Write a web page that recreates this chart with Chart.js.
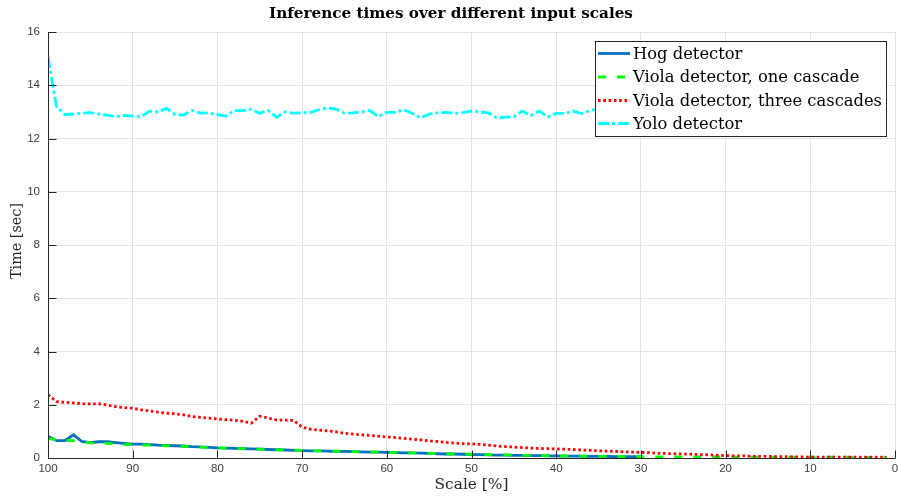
<!DOCTYPE html>
<html>
<head>
<meta charset="utf-8">
<script src="https://cdn.jsdelivr.net/npm/chart.js@4.4.1/dist/chart.umd.min.js"></script>
<style>
  html, body { margin: 0; padding: 0; background: #fff; }
  canvas { display: block; }
</style>
</head>
<body>
<canvas id="c" width="898" height="500"></canvas>
<script>
// input scale in percent, walked from full size down to 1%
const SCALES = [
  100, 99, 98, 97, 96, 95, 94, 93, 92, 91,
  90, 89, 88, 87, 86, 85, 84, 83, 82, 81,
  80, 79, 78, 77, 76, 75, 74, 73, 72, 71,
  70, 69, 68, 67, 66, 65, 64, 63, 62, 61,
  60, 59, 58, 57, 56, 55, 54, 53, 52, 51,
  50, 49, 48, 47, 46, 45, 44, 43, 42, 41,
  40, 39, 38, 37, 36, 35, 34, 33, 32, 31,
  30, 29, 28, 27, 26, 25, 24, 23, 22, 21,
  20, 19, 18, 17, 16, 15, 14, 13, 12, 11,
  10, 9, 8, 7, 6, 5, 4, 3, 2, 1,
];

// seconds per frame; HOG stops at 30% (window no longer fits)
const HOG = [
  0.82, 0.65, 0.65, 0.87, 0.62, 0.58, 0.61, 0.61, 0.58, 0.55,
  0.52, 0.52, 0.50, 0.48, 0.47, 0.46, 0.45, 0.43, 0.42, 0.40,
  0.38, 0.37, 0.36, 0.35, 0.34, 0.33, 0.32, 0.31, 0.30, 0.29,
  0.28, 0.27, 0.27, 0.26, 0.25, 0.25, 0.24, 0.23, 0.22, 0.22,
  0.21, 0.20, 0.19, 0.19, 0.18, 0.17, 0.16, 0.15, 0.15, 0.14,
  0.13, 0.13, 0.12, 0.11, 0.11, 0.10, 0.10, 0.09, 0.09, 0.08,
  0.08, 0.07, 0.07, 0.07, 0.06, 0.06, 0.06, 0.05, 0.05, 0.05,
  0.05,
];
const VIOLA_ONE = [
  0.74, 0.68, 0.66, 0.65, 0.62, 0.57, 0.55, 0.55, 0.53, 0.50,
  0.50, 0.49, 0.48, 0.47, 0.46, 0.45, 0.44, 0.43, 0.41, 0.40,
  0.38, 0.37, 0.36, 0.35, 0.34, 0.33, 0.32, 0.31, 0.30, 0.30,
  0.29, 0.28, 0.27, 0.26, 0.26, 0.25, 0.24, 0.23, 0.23, 0.22,
  0.21, 0.20, 0.20, 0.19, 0.18, 0.17, 0.17, 0.16, 0.15, 0.15,
  0.14, 0.13, 0.13, 0.12, 0.12, 0.11, 0.10, 0.10, 0.09, 0.09,
  0.08, 0.08, 0.07, 0.07, 0.07, 0.06, 0.06, 0.06, 0.05, 0.05,
  0.05, 0.05, 0.04, 0.04, 0.04, 0.04, 0.04, 0.04, 0.04, 0.04,
  0.04, 0.03, 0.03, 0.03, 0.03, 0.03, 0.03, 0.03, 0.03, 0.03,
  0.03, 0.03, 0.03, 0.03, 0.03, 0.02, 0.02, 0.02, 0.02, 0.02,
];
const VIOLA_THREE = [
  2.38, 2.12, 2.09, 2.07, 2.04, 2.03, 2.04, 1.99, 1.93, 1.89,
  1.87, 1.81, 1.77, 1.72, 1.68, 1.66, 1.62, 1.56, 1.53, 1.50,
  1.47, 1.44, 1.42, 1.38, 1.31, 1.57, 1.50, 1.43, 1.42, 1.41,
  1.16, 1.08, 1.05, 1.02, 0.98, 0.93, 0.90, 0.87, 0.85, 0.82,
  0.79, 0.77, 0.74, 0.71, 0.68, 0.64, 0.62, 0.59, 0.56, 0.54,
  0.53, 0.51, 0.48, 0.45, 0.43, 0.41, 0.39, 0.37, 0.36, 0.35,
  0.34, 0.33, 0.32, 0.30, 0.29, 0.27, 0.26, 0.25, 0.23, 0.22,
  0.21, 0.20, 0.18, 0.17, 0.16, 0.15, 0.14, 0.13, 0.12, 0.10,
  0.09, 0.08, 0.08, 0.07, 0.06, 0.06, 0.05, 0.05, 0.04, 0.04,
  0.03, 0.03, 0.03, 0.03, 0.03, 0.03, 0.03, 0.03, 0.03, 0.03,
];
const YOLO = [
  15.05, 13.20, 12.90, 12.92, 12.95, 12.97, 12.92, 12.88, 12.82, 12.87,
  12.85, 12.82, 13.03, 13.00, 13.13, 12.90, 12.88, 13.05, 12.95, 12.96,
  12.90, 12.84, 13.05, 13.05, 13.10, 12.95, 13.05, 12.80, 13.00, 12.95,
  12.97, 12.98, 13.08, 13.15, 13.10, 12.95, 12.96, 13.00, 13.05, 12.82,
  12.98, 12.98, 13.08, 12.95, 12.77, 12.92, 12.96, 12.98, 12.94, 12.97,
  13.03, 13.00, 12.96, 12.77, 12.80, 12.81, 13.03, 12.86, 13.03, 12.81,
  12.94, 12.94, 13.03, 12.94, 13.05, 13.12, 13.08, 12.98, 13.02, 12.95,
  13.04, 12.97, 13.01, 13.06, 12.93, 12.99, 13.05, 12.96, 13.02, 12.98,
  13.03, 12.95, 13.00, 13.07, 12.97, 12.94, 13.02, 13.05, 12.98, 13.01,
  12.96, 13.04, 12.99, 13.02, 12.95, 13.03, 13.00, 12.97, 13.05, 13.01,
];

const X_TICKS = [100, 90, 80, 70, 60, 50, 40, 30, 20, 10, 0];
const Y_TICKS = [0, 2, 4, 6, 8, 10, 12, 14, 16];

const TITLE = 'Inference times over different input scales';
const X_LABEL = 'Scale [%]';
const Y_LABEL = 'Time [sec]';

const AXIS_COLOR = '#262626';
const GRID_COLOR = '#e3e3e3';
const SERIF = '"DejaVu Serif", "Liberation Serif", serif';

const pts = (vals) => SCALES.slice(0, vals.length).map((s, i) => ({ x: s, y: vals[i] }));

const SERIES = [
  { label: 'Hog detector', data: HOG, color: '#0072bd', dash: [] },
  { label: 'Viola detector, one cascade', data: VIOLA_ONE, color: '#00ff00', dash: [8, 11] },
  { label: 'Viola detector, three cascades', data: VIOLA_THREE, color: '#ff0000', dash: [2.6, 2.7] },
  { label: 'Yolo detector', data: YOLO, color: '#00ffff', dash: [11, 3, 3, 3] },
];

// pick a font size so the string spans a given width
function fitFont(ctx, text, weight, family, width) {
  ctx.font = `${weight} 20px ${family}`;
  const size = 20 * width / ctx.measureText(text).width;
  return `${weight} ${size.toFixed(2)}px ${family}`;
}

// MATLAB-like axes: left/bottom lines with inward ticks
const axesPlugin = {
  id: 'axesPlugin',
  afterDatasetsDraw(chart) {
    const { ctx, chartArea: a, scales } = chart;
    const T = 8;
    ctx.save();
    ctx.strokeStyle = AXIS_COLOR;
    ctx.lineWidth = 1;
    ctx.beginPath();
    const L = Math.round(a.left) + 0.5, B = Math.round(a.bottom) + 0.5;
    ctx.moveTo(L, a.top); ctx.lineTo(L, B); ctx.lineTo(a.right, B);
    Y_TICKS.forEach((v) => {
      const y = Math.round(scales.y.getPixelForValue(v)) + 0.5;
      ctx.moveTo(L, y); ctx.lineTo(L + T, y);
    });
    X_TICKS.forEach((v) => {
      const x = Math.round(scales.x.getPixelForValue(v)) + 0.5;
      ctx.moveTo(x, B); ctx.lineTo(x, B - T);
    });
    ctx.stroke();
    ctx.restore();
  },
};

// title, axis labels and the boxed legend drawn over the lines
const textPlugin = {
  id: 'textPlugin',
  afterDraw(chart) {
    const { ctx, chartArea: a } = chart;
    ctx.save();
    ctx.fillStyle = '#000';
    ctx.textAlign = 'center';
    ctx.textBaseline = 'middle';

    ctx.font = fitFont(ctx, TITLE, 'bold', SERIF, 364);
    ctx.fillText(TITLE, 451, 14);

    ctx.fillStyle = AXIS_COLOR;
    ctx.font = fitFont(ctx, X_LABEL, 'normal', SERIF, 74);
    ctx.fillText(X_LABEL, (a.left + a.right) / 2, 485);

    ctx.save();
    ctx.translate(17, 241);
    ctx.rotate(-Math.PI / 2);
    ctx.font = fitFont(ctx, Y_LABEL, 'normal', SERIF, 76);
    ctx.fillText(Y_LABEL, 0, 0);
    ctx.restore();

    // legend
    const box = { l: 595.5, t: 41.5, r: 886.5, b: 136.5 };
    ctx.fillStyle = '#fff';
    ctx.fillRect(box.l, box.t, box.r - box.l, box.b - box.t);
    ctx.strokeStyle = AXIS_COLOR;
    ctx.lineWidth = 1;
    ctx.strokeRect(box.l, box.t, box.r - box.l, box.b - box.t);

    const rows = [53.5, 77, 100.5, 123.5];
    const font = fitFont(ctx, SERIES[2].label, 'normal', SERIF, 249);
    SERIES.forEach((s, i) => {
      const y = rows[i];
      ctx.save();
      ctx.strokeStyle = s.color;
      ctx.lineWidth = 2.8;
      ctx.setLineDash(s.dash);
      ctx.beginPath();
      ctx.moveTo(598, y); ctx.lineTo(630, y);
      ctx.stroke();
      ctx.restore();
      ctx.fillStyle = '#000';
      ctx.textAlign = 'left';
      ctx.font = font;
      ctx.fillText(s.label, 633, y + 1);
    });
    ctx.restore();
  },
};

const tickFont = { family: '"Liberation Sans", Arial, sans-serif', size: 11.5 };

new Chart(document.getElementById('c').getContext('2d'), {
  type: 'line',
  data: {
    datasets: SERIES.map((s, i) => ({
      label: s.label,
      data: pts(s.data),
      borderColor: s.color,
      borderWidth: 2.8,
      borderDash: s.dash,
      borderCapStyle: 'butt',
      pointRadius: 0,
      tension: 0,
      fill: false,
      order: SERIES.length - i,
    })),
  },
  options: {
    responsive: false,
    animation: false,
    devicePixelRatio: 1,
    layout: { padding: { top: 32, right: 3, left: 0, bottom: 0 } },
    plugins: { legend: { display: false }, tooltip: { enabled: false }, title: { display: false } },
    scales: {
      x: {
        type: 'linear',
        reverse: true,
        min: 0, max: 100,
        afterBuildTicks: (s) => { s.ticks = X_TICKS.map((v) => ({ value: v })); },
        afterFit: (s) => { s.height = 42; s.paddingLeft = 0; s.paddingRight = 0; },
        ticks: { color: '#404040', font: tickFont, padding: 4, maxRotation: 0, autoSkip: false },
        grid: { color: GRID_COLOR, drawTicks: false },
        border: { display: false },
      },
      y: {
        min: 0, max: 16,
        afterBuildTicks: (s) => { s.ticks = Y_TICKS.map((v) => ({ value: v })); },
        afterFit: (s) => { s.width = 48; s.paddingTop = 0; s.paddingBottom = 0; },
        ticks: { color: '#404040', font: tickFont, padding: 8 },
        grid: { color: GRID_COLOR, drawTicks: false },
        border: { display: false },
      },
    },
  },
  plugins: [axesPlugin, textPlugin],
});
</script>
</body>
</html>
